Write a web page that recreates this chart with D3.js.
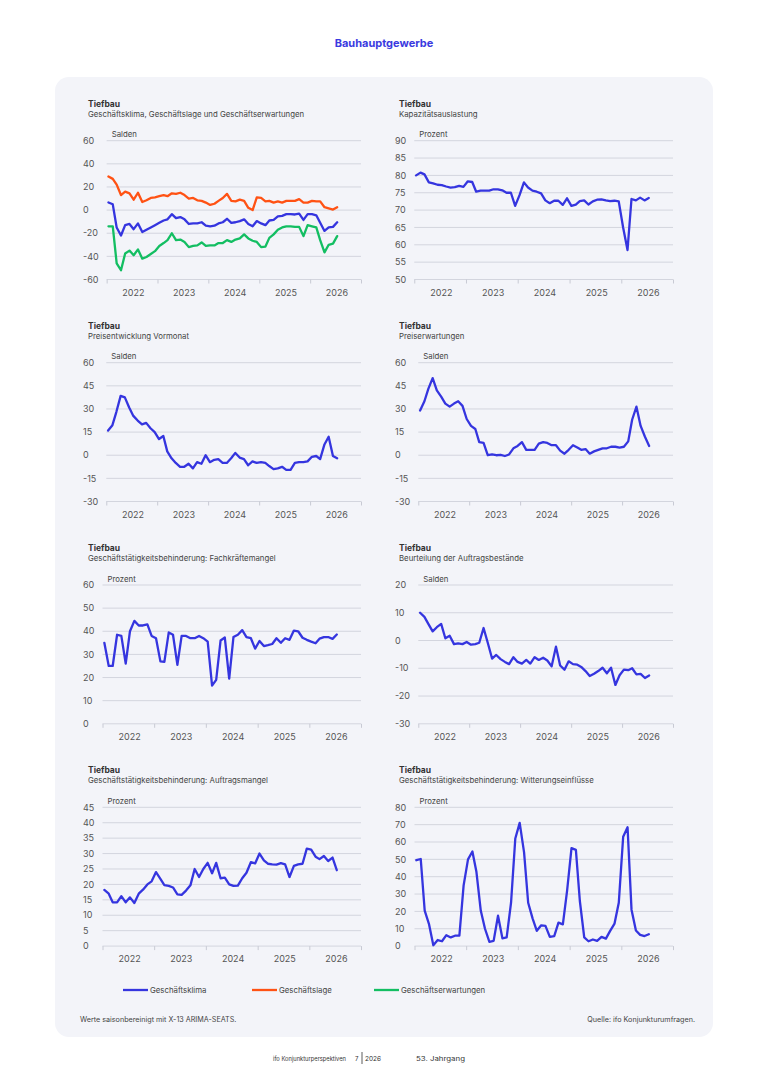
<!DOCTYPE html>
<html>
<head>
<meta charset="utf-8">
<title>Bauhauptgewerbe - Tiefbau</title>
<script src="https://cdn.jsdelivr.net/npm/d3@7"></script>
<style>
  body { margin: 0; background: #fff; }
  svg { display: block; font-family: Inter, "Noto Sans", sans-serif; }
</style>
</head>
<body>
<script>
var W = 768, H = 1086;

// monthly values, Jan 2022 .. Jul 2026
var months = d3.timeMonths(new Date(2022, 0, 1), new Date(2026, 7, 1));
var years = [2022, 2023, 2024, 2025, 2026];

var klima = [6.6, 5, -15, -22, -13, -12, -16.5, -11.5, -19, -17, -15, -13, -11, -9, -8, -3.5, -7, -6, -8, -12,
  -11.5, -11.5, -10.5, -13.5, -14, -13.5, -11.5, -10.5, -7.5, -11, -10.5, -9.5, -8, -12, -14, -9.5, -11.5, -13, -9, -8.5,
  -5.5, -5, -3.5, -3.5, -3.8, -3, -8.5, -3.5, -3.5, -4.5, -11, -18, -15, -14.5, -10.5];
var lage = [29, 27, 22, 13, 16, 14.5, 9, 15, 7, 8.5, 10.5, 11, 12, 13, 12, 14.5, 14, 15, 13, 10,
  10.5, 8.5, 8, 6.5, 4.5, 5.5, 8, 10.5, 14, 8, 7.5, 9, 8, 2, 0, 11, 10.5, 7.5, 8, 6.5,
  7.5, 6.5, 8, 8, 8, 9.5, 6.5, 6.5, 8, 7.5, 7.5, 2.5, 1.5, 0.5, 2.5];
var erwartungen = [-14, -14, -46, -52, -37.5, -35, -39, -34, -42, -40.5, -38, -35.5, -31, -28.5, -26, -20, -26, -25.5, -27.5, -32,
  -31, -30.5, -28, -31, -30.5, -30.5, -28.5, -28.5, -26, -27.5, -25.5, -24.5, -21, -24.5, -26.5, -27.5, -32, -31.5, -24, -21,
  -17, -15, -14, -14, -14.5, -14.5, -22.5, -13, -14, -15, -26, -36.5, -30, -29, -22.5];
var auslastung = [80, 80.8, 80.3, 78, 77.7, 77.3, 77.2, 76.8, 76.5, 76.6, 77, 76.7, 78.3, 78.1, 75.3, 75.6, 75.6, 75.6, 76, 76,
  75.7, 75, 75, 71.2, 74.3, 78, 76.5, 75.6, 75.3, 74.8, 72.8, 72, 72.7, 72.7, 71.5, 73.4, 71.2, 71.6, 72.6, 72.8,
  71.6, 72.5, 73, 73.1, 72.8, 72.6, 72.7, 72.5, 65, 58.5, 73.2, 72.8, 73.6, 72.8, 73.5];
var preisVormonat = [16, 19.5, 28, 38.5, 37.5, 31, 25.5, 22.5, 20, 21, 17.5, 15, 10.5, 12.5, 2.5, -2, -5, -7.5, -7.5, -5.5,
  -8.5, -4.5, -5.5, 0, -4.5, -3, -2.5, -5, -5, -2, 1.5, -1.5, -2.5, -6.5, -4, -5, -4.5, -5, -7, -9,
  -8.5, -7.5, -9.5, -9.5, -5, -4.5, -4.5, -4, -1, -0.5, -2.5, 7, 12, -0.5, -2];
var preisErwartung = [29, 35, 43, 50, 42, 38, 33.5, 31.5, 33.5, 35, 32, 23.5, 19, 17, 8.5, 8, 0, 0.5, 0, 0.3,
  -0.5, 0.5, 4.5, 6, 8.5, 3.5, 3.5, 3.5, 7.5, 8.5, 8, 6.5, 6.5, 3, 1, 3.5, 6.5, 5, 3.5, 4,
  1, 2.5, 3.5, 4.5, 4.5, 5.5, 5.5, 5, 5.5, 9, 23, 31.5, 19, 12, 6];
var fachkraefte = [35, 25, 25, 38.5, 38, 26, 40, 44.5, 42.5, 42.5, 43, 38, 37, 27, 26.8, 39.5, 38.5, 25.5, 38, 38,
  37, 37, 38, 37, 35.5, 16.5, 19, 36, 37.3, 19.5, 37.5, 38.5, 40.5, 37.5, 37, 32.5, 35.8, 33.6, 34, 34.5,
  37, 35, 37, 36.3, 40.3, 40, 37.2, 36.3, 35.5, 34.8, 36.8, 37.5, 37.5, 36.7, 38.6];
var auftragsbestand = [10, 8.5, 6, 3.3, 4.8, 6, 0.8, 1.7, -1.3, -1, -1.3, -0.5, -1.5, -1.3, -0.8, 4.5, -0.8, -6.5, -5.2, -6.7,
  -7.7, -8.5, -6, -7.7, -8.3, -7, -8.3, -6, -7, -6.2, -7.2, -9.3, -2.2, -9, -10.5, -7.5, -8.5, -8.7, -9.5, -11,
  -12.8, -12, -11, -9.8, -11.8, -9.8, -16, -12.5, -10.5, -10.7, -10, -12.2, -12, -13.5, -12.6];
var auftragsmangel = [18.2, 17, 14.2, 14.2, 16.2, 14.2, 15.8, 14, 17, 18.3, 20, 21, 24, 21.8, 19.8, 19.5, 19, 16.8, 16.6, 18,
  19.7, 25, 22.4, 25, 27, 23.6, 27, 22, 22.2, 20, 19.5, 19.6, 22, 23.8, 27.2, 26.8, 30, 27.8, 26.7, 26.5,
  26.4, 26.9, 26.5, 22.4, 26, 26.5, 26.7, 31.6, 31.3, 29, 28.2, 29.2, 27.6, 28.7, 24.6];
var witterung = [49.5, 50.2, 20.5, 12.5, 0.5, 3.5, 2.8, 6.3, 5, 6, 6, 35, 50, 54.5, 43, 20.5, 10, 2.5, 3, 17.5,
  4.5, 5, 25, 62, 71, 54, 25, 16, 8.8, 12, 11.7, 5.3, 5.7, 13.5, 12.5, 32, 56.5, 55.5, 26, 5,
  2.8, 3.8, 3, 5.3, 4.3, 8.8, 13, 25, 63, 68.5, 21, 9, 6.5, 5.8, 6.8];

var ticksSalden60 = [-60, -40, -20, 0, 20, 40, 60];
var ticksAuslastung = [50, 55, 60, 65, 70, 75, 80, 85, 90];
var ticksPreis = [-30, -15, 0, 15, 30, 45, 60];
var ticksFachkraefte = [0, 10, 20, 30, 40, 50, 60];
var ticksBestand = [-30, -20, -10, 0, 10, 20];
var ticksMangel = [0, 5, 10, 15, 20, 25, 30, 35, 40, 45];
var ticksWitterung = [0, 10, 20, 30, 40, 50, 60, 70, 80];

var seriesNames = ["Geschäftsklima", "Geschäftslage", "Geschäftserwartungen"];
var blue = "#3535df", orange = "#ff5214", green = "#13be62";

var panels = [
  {col: 0, row: 0, sub: "Geschäftsklima, Geschäftslage und Geschäftserwartungen", unit: "Salden", ticks: ticksSalden60,
   series: [{v: lage, c: orange}, {v: erwartungen, c: green}, {v: klima, c: blue}]},
  {col: 1, row: 0, sub: "Kapazitätsauslastung", unit: "Prozent", ticks: ticksAuslastung, series: [{v: auslastung, c: blue}]},
  {col: 0, row: 1, sub: "Preisentwicklung Vormonat", unit: "Salden", ticks: ticksPreis, series: [{v: preisVormonat, c: blue}]},
  {col: 1, row: 1, sub: "Preiserwartungen", unit: "Salden", ticks: ticksPreis, series: [{v: preisErwartung, c: blue}]},
  {col: 0, row: 2, sub: "Geschäftstätigkeitsbehinderung: Fachkräftemangel", unit: "Prozent", ticks: ticksFachkraefte, series: [{v: fachkraefte, c: blue}]},
  {col: 1, row: 2, sub: "Beurteilung der Auftragsbestände", unit: "Salden", ticks: ticksBestand, series: [{v: auftragsbestand, c: blue}]},
  {col: 0, row: 3, sub: "Geschäftstätigkeitsbehinderung: Auftragsmangel", unit: "Prozent", ticks: ticksMangel, series: [{v: auftragsmangel, c: blue}]},
  {col: 1, row: 3, sub: "Geschäftstätigkeitsbehinderung: Witterungseinflüsse", unit: "Prozent", ticks: ticksWitterung, series: [{v: witterung, c: blue}]}
];

var svg = d3.select("body").append("svg").attr("width", W).attr("height", H);

svg.append("text").attr("x", 384).attr("y", 47).attr("text-anchor", "middle")
  .attr("font-size", 11).attr("font-weight", 700).attr("fill", "#3a3ae0").text("Bauhauptgewerbe");

svg.append("rect").attr("x", 55).attr("y", 77).attr("width", 658).attr("height", 960)
  .attr("rx", 14).attr("fill", "#f3f4f9");

var rowTop = [140.7, 362.7, 585, 807.3];
var plotH = 138.8;
var colLabelX = [83, 395], colTitleX = [88, 399], colRight = [361, 673];

panels.forEach(function(p) {
  var top = rowTop[p.row], bottom = top + plotH;
  var g = svg.append("g");

  g.append("text").attr("x", colTitleX[p.col]).attr("y", top - 34)
    .attr("font-size", 8.5).attr("font-weight", 700).attr("fill", "#333").text("Tiefbau");
  g.append("text").attr("x", colTitleX[p.col]).attr("y", top - 24)
    .attr("font-size", 7.8).attr("fill", "#444").text(p.sub);

  var y = d3.scaleLinear().domain(d3.extent(p.ticks)).range([bottom, top]);
  var labels = g.selectAll(".yl").data(p.ticks).enter().append("text")
    .attr("x", colLabelX[p.col]).attr("y", function(d){ return y(d) + 3.2; })
    .attr("font-size", 9).attr("fill", "#555").text(function(d){ return d; });
  var maxW = d3.max(labels.nodes(), function(n){ return n.getComputedTextLength(); });
  var left = colLabelX[p.col] + maxW + 8;

  var x = d3.scaleTime().domain([new Date(2022, 0, 1), new Date(2027, 0, 1)]).range([left, colRight[p.col]]);

  g.selectAll(".grid").data(p.ticks).enter().append("line")
    .attr("x1", left).attr("x2", colRight[p.col])
    .attr("y1", function(d){ return y(d); }).attr("y2", function(d){ return y(d); })
    .attr("stroke", "#d3d5de").attr("stroke-width", 1);

  var ax = g.append("g").attr("transform", "translate(0," + bottom + ")")
    .call(d3.axisBottom(x).ticks(d3.timeYear.every(1)).tickSize(4).tickSizeOuter(0).tickFormat(""));
  ax.select(".domain").remove();
  ax.selectAll("line").attr("stroke", "#c8cad4");

  g.selectAll(".xl").data(years).enter().append("text")
    .attr("x", function(d){ return x(new Date(d, 6, 1)) + 1.5; }).attr("y", bottom + 16)
    .attr("text-anchor", "middle").attr("font-size", 9).attr("fill", "#555")
    .text(function(d){ return d; });

  g.append("text").attr("x", left + 5).attr("y", top - 3.5)
    .attr("font-size", 7.8).attr("fill", "#444").text(p.unit);

  var line = d3.line()
    .x(function(d, i){ return x(d3.timeDay.offset(months[i], 13)); })
    .y(function(d){ return y(d); });

  p.series.forEach(function(s) {
    g.append("path").datum(s.v).attr("d", line).attr("fill", "none")
      .attr("stroke", s.c).attr("stroke-width", 2.3)
      .attr("stroke-linejoin", "round").attr("stroke-linecap", "round");
  });
});

// legend
var legendX = [123, 252, 374];
var legendColors = [blue, orange, green];
var lg = svg.append("g");
seriesNames.forEach(function(name, i) {
  lg.append("line").attr("x1", legendX[i]).attr("x2", legendX[i] + 25)
    .attr("y1", 990).attr("y2", 990).attr("stroke", legendColors[i]).attr("stroke-width", 2.3);
  lg.append("text").attr("x", legendX[i] + 27).attr("y", 993)
    .attr("font-size", 7.8).attr("fill", "#444").text(name);
});

svg.append("text").attr("x", 80).attr("y", 1022).attr("font-size", 7.2).attr("fill", "#444")
  .text("Werte saisonbereinigt mit X-13 ARIMA-SEATS.");
svg.append("text").attr("x", 695).attr("y", 1022).attr("text-anchor", "end").attr("font-size", 7.2).attr("fill", "#444")
  .text("Quelle: ifo Konjunkturumfragen.");

// footer line: ifo Konjunkturperspektiven  7 | 2026  53. Jahrgang
var footParts = [
  {t: "ifo Konjunkturperspektiven", x: 273, w: 73},
  {t: "7", x: 355, w: 3.5},
  {t: "2026", x: 365, w: 16},
  {t: "53. Jahrgang", x: 416, w: 49}
];
svg.selectAll(".foot").data(footParts).enter().append("text")
  .attr("x", function(d){ return d.x; }).attr("y", 1061)
  .attr("font-size", 6.2).attr("fill", "#333")
  .attr("textLength", function(d){ return d.w; }).attr("lengthAdjust", "spacingAndGlyphs")
  .text(function(d){ return d.t; });
svg.append("line").attr("x1", 362).attr("x2", 362).attr("y1", 1052).attr("y2", 1064)
  .attr("stroke", "#333").attr("stroke-width", 0.8);
</script>
</body>
</html>
